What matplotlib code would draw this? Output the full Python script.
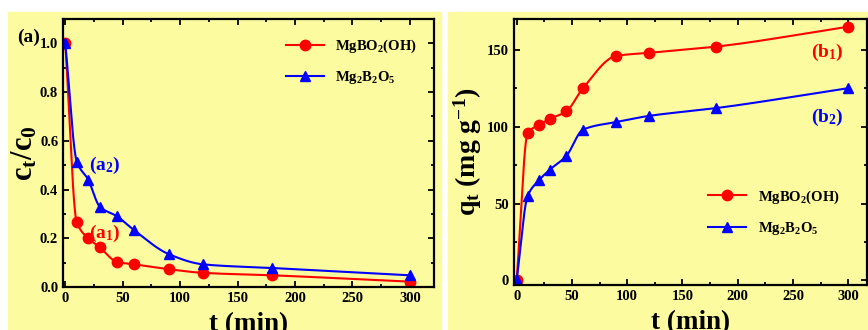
import numpy as np
import matplotlib
matplotlib.use('Agg')
from matplotlib import pyplot as plt
from matplotlib.patches import Rectangle
from matplotlib.ticker import MultipleLocator

plt.rcParams['font.family'] = ['Liberation Serif', 'DejaVu Serif']
plt.rcParams['font.weight'] = 'bold'
plt.rcParams['mathtext.fontset'] = 'custom'
plt.rcParams['mathtext.rm'] = 'Liberation Serif:bold'
plt.rcParams['mathtext.it'] = 'Liberation Serif:bold'
plt.rcParams['mathtext.bf'] = 'Liberation Serif:bold'

t = [0, 10, 20, 30, 45, 60, 90, 120, 180, 300]
ct_a1 = [1.0, 0.265, 0.20, 0.163, 0.103, 0.093, 0.073, 0.058, 0.048, 0.022]
ct_a2 = [1.0, 0.515, 0.44, 0.33, 0.29, 0.233, 0.135, 0.093, 0.078, 0.048]
qt_b1 = [0, 96, 101, 105, 110, 125, 146, 148, 152, 165]
qt_b2 = [0, 55, 65, 72, 81, 98, 103, 107, 112, 125]

label1 = 'MgBO$_\\mathregular{2}$(OH)'
label2 = 'Mg$_\\mathregular{2}$B$_\\mathregular{2}$O$_\\mathregular{5}$'

YELLOW = '#fdfba0'


def pchip(x, y, n=400):
	# monotone cubic curve through the points, like the smoothed line in Origin
	x = np.asarray(x, float)
	y = np.asarray(y, float)
	h = np.diff(x)
	d = np.diff(y) / h
	m = np.zeros_like(y)
	for k in range(1, len(x) - 1):
		if d[k-1] * d[k] > 0:
			w1 = 2*h[k] + h[k-1]
			w2 = h[k] + 2*h[k-1]
			m[k] = (w1 + w2) / (w1/d[k-1] + w2/d[k])
	m[0] = d[0]
	m[-1] = d[-1]
	xs = np.linspace(x[0], x[-1], n)
	idx = np.clip(np.searchsorted(x, xs) - 1, 0, len(x) - 2)
	s = (xs - x[idx]) / h[idx]
	h00 = 2*s**3 - 3*s**2 + 1
	h10 = s**3 - 2*s**2 + s
	h01 = -2*s**3 + 3*s**2
	h11 = s**3 - s**2
	ys = h00*y[idx] + h10*h[idx]*m[idx] + h01*y[idx+1] + h11*h[idx]*m[idx+1]
	return xs, ys


def style_axes(ax):
	for sp in ax.spines.values():
		sp.set_linewidth(1.6)
	ax.set_facecolor(YELLOW)
	ax.tick_params(which='both', direction='in', top=True, right=True, width=1.3, labelsize=10.5)
	ax.tick_params(which='major', length=4)
	ax.tick_params(which='minor', length=2.5)
	ax.xaxis.set_major_locator(MultipleLocator(50))
	ax.xaxis.set_minor_locator(MultipleLocator(25))
	ax.set_xlabel('t (min)', fontsize=19.5, fontweight='bold', labelpad=5)


def draw(ax, x, y, color, marker, label):
	xs, ys = pchip(x, y)
	ax.plot(xs, ys, '-', color=color, lw=1.5)
	ax.plot(x, y, marker, color=color, ms=7.5, ls='none')
	ax.plot([], [], '-' + marker, color=color, ms=7.5, lw=1.5, label=label)


fig = plt.figure(figsize=(8.68, 3.3), dpi=100)
W, H = 868.0, 330.0
fig.patches.append(Rectangle((8/W, 0), 433/W, 318/H, transform=fig.transFigure, color=YELLOW, zorder=-1))
fig.patches.append(Rectangle((448/W, 0), 420/W, 318/H, transform=fig.transFigure, color=YELLOW, zorder=-1))

# (a)
ax1 = fig.add_axes([63/W, 1 - 287/H, 371/W, 268/H])
style_axes(ax1)
draw(ax1, t, ct_a1, 'red', 'o', label1)
draw(ax1, t, ct_a2, 'blue', '^', label2)
ax1.set_xlim(-2, 321)
ax1.set_ylim(0, 1.1)
ax1.yaxis.set_major_locator(MultipleLocator(0.2))
ax1.yaxis.set_minor_locator(MultipleLocator(0.1))
ax1.yaxis.set_major_formatter(matplotlib.ticker.FormatStrFormatter('%.1f'))
ax1.set_ylabel('c$_\\mathregular{t}$/c$_\\mathregular{0}$', fontsize=22, fontweight='bold', labelpad=0)
ax1.text(21, 0.22, '(a$_\\mathregular{1}$)', color='red', fontsize=14, fontweight='bold', va='center')
ax1.text(21, 0.50, '(a$_\\mathregular{2}$)', color='blue', fontsize=14, fontweight='bold', va='center')
fig.text(17/W, 1 - 37/H, '(a)', fontsize=14, fontweight='bold', va='center')
ax1.legend(loc='upper right', frameon=False, fontsize=10.5, handlelength=2.6, labelspacing=1.0,
           bbox_to_anchor=(0.99, 0.98))

# (b)
ax2 = fig.add_axes([514/W, 1 - 285/H, 353/W, 266/H])
style_axes(ax2)
draw(ax2, t, qt_b1, 'red', 'o', label1)
draw(ax2, t, qt_b2, 'blue', '^', label2)
ax2.set_xlim(-2.4, 317)
ax2.set_ylim(-3, 170)
ax2.yaxis.set_major_locator(MultipleLocator(50))
ax2.yaxis.set_minor_locator(MultipleLocator(25))
ax2.set_ylabel('q$_\\mathregular{t}$ (mg g$^\\mathregular{-1}$)', fontsize=20, fontweight='bold', labelpad=2)
ax2.text(266, 148, '(b$_\\mathregular{1}$)', color='red', fontsize=14, fontweight='bold', va='center')
ax2.text(266, 106, '(b$_\\mathregular{2}$)', color='blue', fontsize=14, fontweight='bold', va='center')
ax2.legend(loc='lower right', frameon=False, fontsize=10.5, handlelength=2.6, labelspacing=1.0,
           bbox_to_anchor=(0.96, 0.13))

fig.savefig('out.png', dpi=100)
